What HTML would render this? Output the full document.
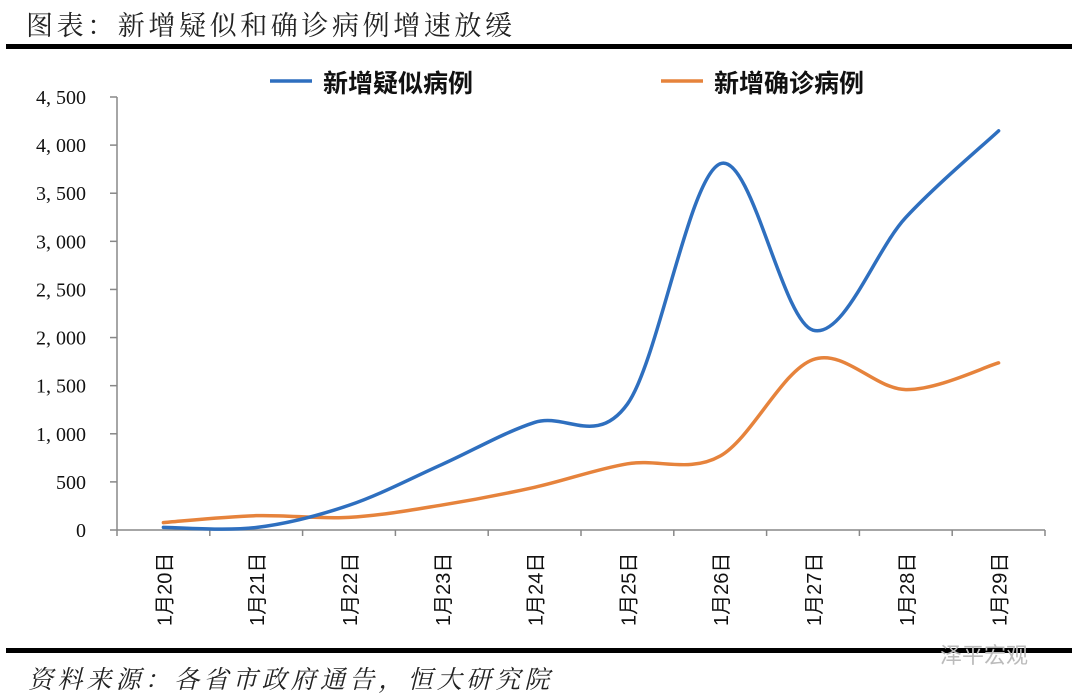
<!DOCTYPE html>
<html><head><meta charset="utf-8"><style>
body{margin:0;background:#fff;width:1078px;height:700px;overflow:hidden}
svg{display:block}
</style></head><body>
<svg id="s" width="1078" height="700" xmlns="http://www.w3.org/2000/svg">
<text x="26" y="35" font-family="'Liberation Serif','Noto Serif CJK SC',serif" font-size="27" letter-spacing="3.6" fill="#222">图表：新增疑似和确诊病例增速放缓</text>
<rect x="6" y="44" width="1066" height="5" fill="#000"/>
<line x1="270" y1="81" x2="312" y2="81" stroke="#2e6fbf" stroke-width="3.5"/>
<text x="323" y="92" font-family="'Noto Sans CJK SC',sans-serif" font-weight="bold" font-size="25" fill="#111">新增疑似病例</text>
<line x1="661" y1="81" x2="703" y2="81" stroke="#e6833c" stroke-width="3.5"/>
<text x="714" y="92" font-family="'Noto Sans CJK SC',sans-serif" font-weight="bold" font-size="25" fill="#111">新增确诊病例</text>
<g id="ax" stroke="#888" stroke-width="1.5" fill="none"></g>
<g id="yl" font-family="'Liberation Serif',serif" font-size="20" fill="#111" text-anchor="end"></g>
<g id="xl" font-family="'Liberation Sans','Noto Sans CJK SC',sans-serif" font-size="20" fill="#111"></g>
<path id="pc" fill="none" stroke="#e6833c" stroke-width="3.5" stroke-linecap="round"/>
<path id="ps" fill="none" stroke="#2e6fbf" stroke-width="3.5" stroke-linecap="round"/>
<rect x="6" y="648" width="1066" height="5" fill="#000"/>
<text x="28" y="688" font-family="'Liberation Serif','Noto Serif CJK SC',serif" font-style="italic" font-size="25" letter-spacing="4.2" fill="#222">资料来源：各省市政府通告，恒大研究院</text>
<text x="940" y="663" font-family="'Noto Sans CJK SC',sans-serif" font-size="22" fill="#bbb">泽平宏观</text>
</svg>
<script>
var ns="http://www.w3.org/2000/svg";
function el(t,a,p,txt){var e=document.createElementNS(ns,t);for(var k in a)e.setAttribute(k,a[k]);if(txt)e.textContent=txt;document.getElementById(p).appendChild(e);}
var y0=530,k=(530-97)/4500,x0=117,dx=92.8;
function Y(v){return y0-v*k}
el('line',{x1:x0,y1:97,x2:x0,y2:530},'ax');
el('line',{x1:x0,y1:530,x2:1045,y2:530},'ax');
for(var i=0;i<=9;i++){var v=i*500,y=Y(v);el('line',{x1:110,y1:y,x2:x0,y2:y},'ax');
el('text',{x:86,y:y+7},'yl',v>=1000?Math.floor(v/1000)+', '+String(v%1000).padStart(3,'0'):String(v));}
for(var i=0;i<=10;i++){var x=x0+i*dx;el('line',{x1:x,y1:530,x2:x,y2:536},'ax');}
for(var i=0;i<10;i++){var cx=x0+dx/2+i*dx+1;
el('text',{x:0,y:0,transform:'translate('+(cx+7)+',626) rotate(-90)'},'xl','1月'+(20+i)+'日');}
function path(d){var p=d.map(function(v,i){return [x0+dx/2+i*dx,Y(v)]});
var s='M'+p[0][0]+','+p[0][1];
for(var i=0;i<p.length-1;i++){var a=p[i-1]||p[i],b=p[i],c=p[i+1],e=p[i+2]||c,t=1/6;
s+=' C'+(b[0]+(c[0]-a[0])*t)+','+(b[1]+(c[1]-a[1])*t)+' '+(c[0]-(e[0]-b[0])*t)+','+(c[1]-(e[1]-b[1])*t)+' '+c[0]+','+c[1];}
return s;}
document.getElementById('ps').setAttribute('d',path([27,26,257,680,1118,1309,3806,2077,3248,4148]));
document.getElementById('pc').setAttribute('d',path([77,149,131,259,444,688,769,1771,1459,1737]));
</script>
</body></html>
